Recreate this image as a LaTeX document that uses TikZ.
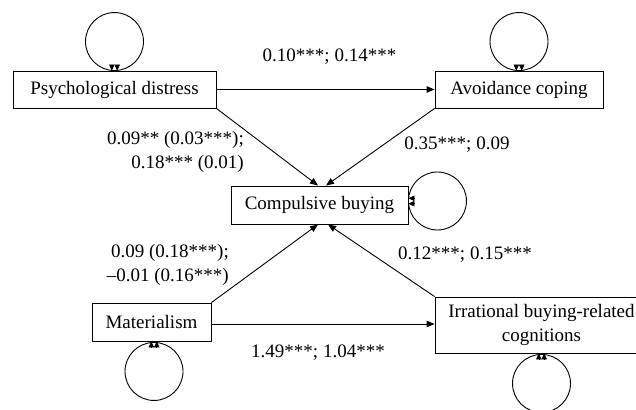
\documentclass[tikz,border=0pt]{standalone}
\usepackage{fontspec}
\setmainfont{Liberation Serif}
\usetikzlibrary{arrows.meta}
\begin{document}
\begin{tikzpicture}[x=1pt,y=-1pt,
  every node/.style={font=\fontsize{19}{24}\selectfont},
  box/.style={draw, line width=0.9pt, inner sep=0pt, align=center},
  arr/.style={line width=0.9pt, -{Triangle[length=8pt,width=6.5pt]}},
  lp/.style={line width=0.9pt},
  ltip/.style={line width=0.6pt, -{Triangle[length=6pt,width=5.5pt]}},
  lbl/.style={inner sep=0pt}]
\useasboundingbox (0,0) rectangle (636,409);
\clip (0,0) rectangle (636,409);
% nodes
\node[box, minimum width=203pt, minimum height=37pt] (pd) at (114.5,89.5) {Psychological distress};
\node[box, minimum width=168pt, minimum height=37pt] (av) at (519,89.5) {Avoidance coping};
\node[box, minimum width=177pt, minimum height=38pt] (cb) at (319.5,205) {Compulsive buying};
\node[box, minimum width=119pt, minimum height=38pt] (ma) at (151.5,322) {Materialism};
\node[box, minimum width=213pt, minimum height=56pt] (ir) at (541.5,325) {Irrational buying-related\\cognitions};
% self loops
\draw[lp] ([yshift=29pt]pd.north) circle (29pt);
\draw[ltip] ([xshift=-2.7pt,yshift=6pt]pd.north) -- ([xshift=-2.7pt]pd.north);
\draw[ltip] ([xshift=2.7pt,yshift=6pt]pd.north) -- ([xshift=2.7pt]pd.north);
\draw[lp] ([yshift=29pt]av.north) circle (29pt);
\draw[ltip] ([xshift=-2.7pt,yshift=6pt]av.north) -- ([xshift=-2.7pt]av.north);
\draw[ltip] ([xshift=2.7pt,yshift=6pt]av.north) -- ([xshift=2.7pt]av.north);
\draw[lp] ([xshift=29pt,yshift=4pt]cb.east) circle (29pt);
\draw[ltip] ([xshift=6pt,yshift=6.7pt]cb.east) -- ([yshift=6.7pt]cb.east);
\draw[ltip] ([xshift=6pt,yshift=1.3pt]cb.east) -- ([yshift=1.3pt]cb.east);
\draw[lp] ([xshift=2.5pt,yshift=-30pt]ma.south) circle (29pt);
\draw[ltip] ([xshift=-0.2pt,yshift=-6pt]ma.south) -- ([xshift=-0.2pt]ma.south);
\draw[ltip] ([xshift=5.2pt,yshift=-6pt]ma.south) -- ([xshift=5.2pt]ma.south);
\draw[lp] ([yshift=-30pt]ir.south) circle (29pt);
\draw[ltip] ([xshift=-2.7pt,yshift=-6pt]ir.south) -- ([xshift=-2.7pt]ir.south);
\draw[ltip] ([xshift=2.7pt,yshift=-6pt]ir.south) -- ([xshift=2.7pt]ir.south);
% paths
\draw[arr] (pd.east) -- (av.west);
\draw[arr] (pd.south east) -- ([xshift=-1.5pt]cb.north);
\draw[arr] (av.south west) -- ([xshift=6.5pt]cb.north);
\draw[arr] (ma.north east) -- ([xshift=-1.5pt]cb.south);
\draw[arr] (ir.north west) -- ([xshift=8.5pt]cb.south);
\draw[arr] ([yshift=-2pt]ma.east) -- ([yshift=-2pt]ma.east -| ir.west);
% labels
\node[lbl] (l1) at (329.5,57) {0.10***; 0.14***};
\node[lbl, align=right, anchor=east] (l2) at (244,151.5) {0.09** (0.03***);\\0.18*** (0.01)};
\node[lbl] (l3) at (457,145) {0.35***; 0.09};
\node[lbl, align=right, anchor=east] (l4) at (229,264.5) {0.09 (0.18***);\\–0.01 (0.16***)};
\node[lbl] (l5) at (465,255) {0.12***; 0.15***};
\node[lbl] (l6) at (318,353) {1.49***; 1.04***};
\end{tikzpicture}
\end{document}
